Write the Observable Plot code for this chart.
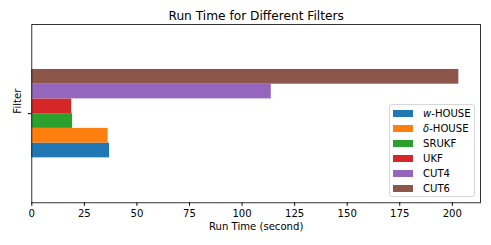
<!DOCTYPE html>
<html>
<head>
<meta charset="utf-8">
<script src="https://cdn.jsdelivr.net/npm/d3@7"></script>
<script src="https://cdn.jsdelivr.net/npm/@observablehq/plot@0.6"></script>
<style>
  html, body { margin: 0; padding: 0; background: #fff; }
  #wrap { position: relative; width: 491px; height: 245px; font-family: "DejaVu Sans", sans-serif; }
  #legend { position: absolute; left: 389px; top: 104px; width: 86px; height: 93px;
    border: 1px solid #d6d6d6; border-radius: 3px; background: rgba(255,255,255,0.8);
    box-sizing: border-box; font-size: 10.1px; color: #000; }
  .row { position: absolute; left: 0; height: 15px; line-height: 15px; white-space: nowrap; }
  .sw { position: absolute; left: 3px; top: 4px; width: 20px; height: 7px; }
  .lb { position: absolute; left: 33px; top: 0; }
</style>
</head>
<body>
<div id="wrap"></div>
<script>
const filters = ["w-HOUSE", "δ-HOUSE", "SRUKF", "UKF", "CUT4", "CUT6"];
const runTimes = [37.0, 36.3, 19.4, 19.0, 113.9, 203.1];
const colors = ["#1f77b4", "#ff7f0e", "#2ca02c", "#d62728", "#9467bd", "#8c564b"];
const xTicks = [0, 25, 50, 75, 100, 125, 150, 175, 200];

const n = filters.length;
const data = filters.map((f, i) => ({ name: f, value: runTimes[i], y1: i - n / 2, y2: i - n / 2 + 1 }));

const chart = Plot.plot({
  width: 491,
  height: 245,
  marginLeft: 31.3,
  marginRight: 11,
  marginTop: 24,
  marginBottom: 42.7,
  style: { fontFamily: "DejaVu Sans, sans-serif", fontSize: "10.1px", color: "#000", background: "#fff" },
  x: { domain: [0, 213.4] },
  y: { domain: [-6.05, 6.05] },
  color: { domain: filters, range: colors },
  marks: [
    Plot.rect(data, { x1: 0, x2: "value", y1: "y1", y2: "y2", fill: "name" }),
    Plot.frame({ stroke: "#000", strokeWidth: 0.8 }),
    Plot.axisX({ ticks: xTicks, tickSize: 3.5, tickPadding: 4, label: null, fontSize: 10.1 }),
    Plot.axisY({ ticks: [0], tickFormat: () => "", tickSize: 3.5, label: null }),
    Plot.text(["Run Time (second)"], { frameAnchor: "bottom", lineAnchor: "middle", dy: 24, text: d => d, fontSize: 10.1 }),
    Plot.text(["Filter"], { frameAnchor: "left", lineAnchor: "middle", dx: -14.5, rotate: -90, text: d => d, fontSize: 10.1 }),
    Plot.text(["Run Time for Different Filters"], { frameAnchor: "top", lineAnchor: "middle", dy: -8, text: d => d, fontSize: 12.2 })
  ]
});

const wrap = document.getElementById("wrap");
wrap.appendChild(chart);

const legend = d3.select(wrap).append("div").attr("id", "legend");
filters.forEach((f, i) => {
  const row = legend.append("div").attr("class", "row").style("top", (i * 15 + 0.5) + "px");
  row.append("div").attr("class", "sw").style("background", colors[i]);
  const lb = row.append("div").attr("class", "lb");
  const m = f.match(/^(.)-(.*)$/);
  if (m) {
    lb.append("i").text(m[1]);
    lb.append("span").text("-" + m[2]);
  } else {
    lb.text(f);
  }
});
</script>
</body>
</html>
